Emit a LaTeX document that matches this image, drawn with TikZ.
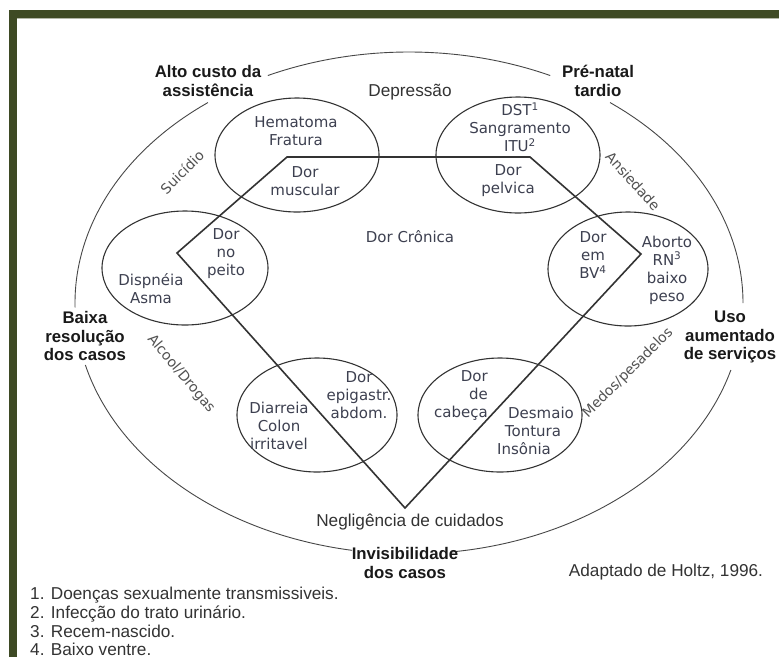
\documentclass[tikz,border=0pt]{standalone}
\usepackage{fontspec}
\setmainfont{Liberation Sans}
\newfontfamily\verd{DejaVu Sans}
\definecolor{frame}{HTML}{3E4A24}
\definecolor{ink}{HTML}{333333}
\definecolor{soft}{HTML}{3D4050}
\begin{document}
\begin{tikzpicture}[x=1pt,y=-1pt,
  outer/.style={draw=ink!90, line width=0.9pt},
  ring/.style={draw=ink, line width=1.1pt},
  route/.style={draw=ink, line width=1.6pt, line join=miter},
  sym/.style={font=\verd\fontsize{15}{18}\selectfont, text=soft, align=center, inner sep=0pt},
  tag/.style={font=\bfseries\fontsize{16.8}{18.5}\selectfont, text=black!90, align=center, inner sep=0pt},
  plain/.style={font=\fontsize{17.2}{19}\selectfont, text=ink, inner sep=0pt},
  mood/.style={font=\verd\fontsize{14}{16}\selectfont, text=ink!85, inner sep=0pt},
]
\useasboundingbox (0,0) rectangle (779,657);
\fill[white] (0,0) rectangle (779,657);

% frame bars
\fill[frame] (9,10) rectangle (779,18);
\fill[frame] (9,10) rectangle (17,657);
\draw[frame!40, line width=0.8pt] (17,18.5) -- (779,18.5);

% outer cycle, broken at the five labels
\coordinate (O) at (409,303);
\draw[outer] ([shift={(-115:334 and 251)}]O) arc[start angle=-115, end angle=-65, x radius=334, y radius=251];
\draw[outer] ([shift={(-53:334 and 251)}]O) arc[start angle=-53, end angle=0, x radius=334, y radius=251];
\draw[outer] ([shift={(15.5:334 and 251)}]O) arc[start angle=15.5, end angle=82.6, x radius=334, y radius=251];
\draw[outer] ([shift={(99.8:334 and 251)}]O) arc[start angle=99.8, end angle=165.7, x radius=334, y radius=251];
\draw[outer] ([shift={(179:334 and 251)}]O) arc[start angle=179, end angle=233, x radius=334, y radius=251];

% symptom ellipses
\draw[ring] (297,155) ellipse [x radius=82, y radius=57];
\draw[ring] (518,155) ellipse [x radius=82, y radius=58];
\draw[ring] (185,268) ellipse [x radius=83, y radius=57];
\draw[ring] (628,269) ellipse [x radius=80, y radius=57];
\draw[ring] (317,415) ellipse [x radius=80, y radius=57];
\draw[ring] (500,415) ellipse [x radius=82, y radius=57];

% chronic pain route
\coordinate (vTL) at (287,157);
\coordinate (vTR) at (530,157);
\coordinate (vR)  at (641,254);
\coordinate (vB)  at (405,508);
\coordinate (vL)  at (177,253);
\draw[route] (vTL) -- (vTR) -- (vR) -- (vB) -- (vL) -- cycle;

% texts inside the ellipses
\node[sym] (hem) at (296,131) {Hematoma\\Fratura};
\node[sym] (mus) at (305,181) {Dor\\muscular};
\node[sym] (dst) at (520,127) {DST\textsuperscript{1}\\Sangramento\\ITU\textsuperscript{2}};
\node[sym] (pel) at (508,181) {Dor\\pelvica};
\node[sym] (pei) at (226,254) {Dor\\no\\peito};
\node[sym] (dis) at (151,289) {Dispnéia\\Asma};
\node[sym] (bv)  at (593,255) {Dor\\em\\BV\textsuperscript{4}};
\node[sym] (abo) at (667,270) {Aborto\\RN\textsuperscript{3}\\baixo\\peso};
\node[sym] (epi) at (359,395) {Dor\\epigastr.\\abdom.};
\node[sym] (dia) at (279,426) {Diarreia\\Colon\\irritavel};
\node[sym, align=right] (cab) at (461,395) {Dor\\de\\cabeça};
\node[sym] (des1) at (541,413) {Desmaio};
\node[sym] (des2) at (533,431) {Tontura};
\node[sym] (des3) at (524,449) {Insônia};
\node[sym] (cro) at (410,237) {Dor Crônica};

% moods around the cycle
\node[mood, rotate=45]  (sui) at (182,172) {Suicídio};
\node[mood, rotate=-48] (ans) at (633,181) {Ansiedade};
\node[mood, rotate=-50] (alc) at (181,374) {Alcool/Drogas};
\node[mood, rotate=45]  (med) at (628,373) {Medos/pesadelos};

\node[plain] (dep) at (410,92) {Depressão};
\node[plain] (neg) at (410,522) {Negligência de cuidados};

% consequences
\node[tag] (alto) at (208,81)  {Alto custo da\\assistência};
\node[tag] (pre)  at (598,81)  {Pré-natal\\tardio};
\node[tag] (bai)  at (85,336)  {Baixa\\resolução\\dos casos};
\node[tag] (uso)  at (730,337) {Uso\\aumentado\\de serviços};
\node[tag] (inv)  at (405,563) {Invisibilidade\\dos casos};

\node[plain] (src) at (666,572) {Adaptado de Holtz, 1996.};

% footnotes
\node[plain, anchor=base west] (n1) at (30,599) {1. Doenças sexualmente transmissiveis.};
\node[plain, anchor=base west] (n2) at (30,618) {2. Infecção do trato urinário.};
\node[plain, anchor=base west] (n3) at (30,637) {3. Recem-nascido.};
\node[plain, anchor=base west] (n4) at (30,655) {4. Baixo ventre.};
\end{tikzpicture}
\end{document}
